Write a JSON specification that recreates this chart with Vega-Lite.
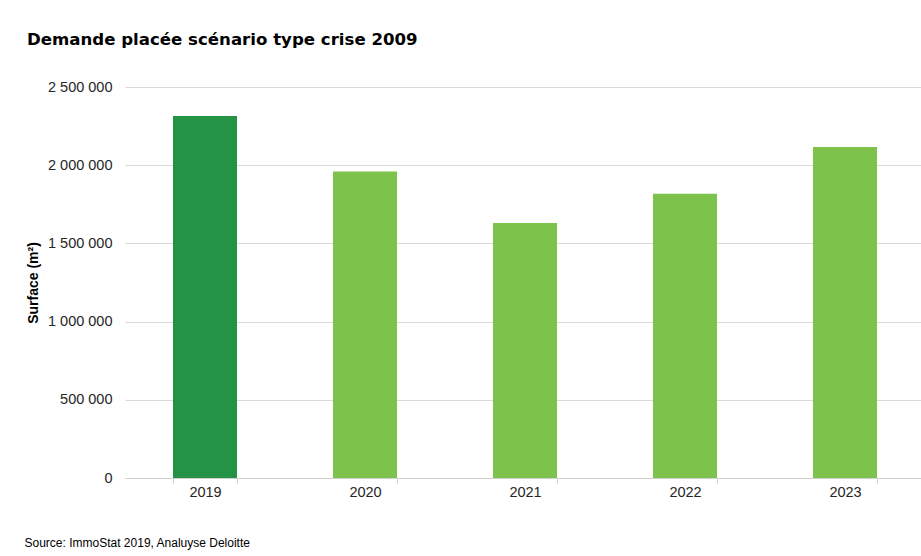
{
  "$schema": "https://vega.github.io/schema/vega-lite/v6.json",
  "width": 800,
  "height": 391,
  "autosize": "none",
  "padding": {"left": 125, "top": 87, "right": 0, "bottom": 78},
  "background": "#ffffff",
  "config": {
    "locale": {"number": {"decimal": ",", "thousands": " ", "grouping": [3], "currency": ["", " €"]}},
    "view": {"stroke": null}
  },
  "title": {
    "text": "Demande placée scénario type crise 2009",
    "anchor": "start",
    "frame": "group",
    "dx": -98,
    "offset": 17,
    "baseline": "alphabetic",
    "font": "DejaVu Sans",
    "fontSize": 16.6,
    "fontWeight": "bold",
    "color": "#000000"
  },
  "data": {
    "values": [
      {"annee": "2019", "surface": 2314000, "type": "Réel"},
      {"annee": "2020", "surface": 1960000, "type": "Scénario"},
      {"annee": "2021", "surface": 1631000, "type": "Scénario"},
      {"annee": "2022", "surface": 1818000, "type": "Scénario"},
      {"annee": "2023", "surface": 2116000, "type": "Scénario"}
    ]
  },
  "mark": {"type": "bar"},
  "encoding": {
    "x": {
      "field": "annee",
      "type": "nominal",
      "sort": null,
      "scale": {"paddingInner": 0.6, "paddingOuter": 0.3},
      "axis": {
        "title": "Source: ImmoStat 2019, Analuyse Deloitte",
        "titleX": -101,
        "titleY": 64,
        "titleAlign": "left",
        "titleAnchor": "start",
        "titleBaseline": "middle",
        "titleFont": "Liberation Sans",
        "titleFontSize": 12,
        "titleFontWeight": "normal",
        "titleColor": "#000000",
        "labelAngle": 0,
        "labelFont": "Liberation Sans",
        "labelFontSize": 14.5,
        "labelColor": "#262626",
        "labelPadding": 2,
        "tickBand": "extent",
        "ticks": true,
        "tickSize": 5,
        "tickColor": "#d0d0d0",
        "domainColor": "#d0d0d0",
        "grid": false
      }
    },
    "y": {
      "field": "surface",
      "type": "quantitative",
      "scale": {"domain": [0, 2500000], "nice": false},
      "axis": {
        "title": "Surface (m²)",
        "titleX": -92,
        "titleY": 195.5,
        "titleAngle": -90,
        "titleAlign": "center",
        "titleBaseline": "middle",
        "titleFont": "Liberation Sans",
        "titleFontSize": 14,
        "titleFontWeight": "bold",
        "titleColor": "#000000",
        "values": [0, 500000, 1000000, 1500000, 2000000, 2500000],
        "format": ",d",
        "labelFont": "Liberation Sans",
        "labelFontSize": 14.5,
        "labelColor": "#262626",
        "labelPadding": 13,
        "ticks": false,
        "domain": false,
        "grid": true,
        "gridColor": "#d9d9d9",
        "gridWidth": 1
      }
    },
    "color": {
      "field": "type",
      "type": "nominal",
      "scale": {"domain": ["Réel", "Scénario"], "range": ["#249346", "#7dc24b"]},
      "legend": null
    }
  }
}
